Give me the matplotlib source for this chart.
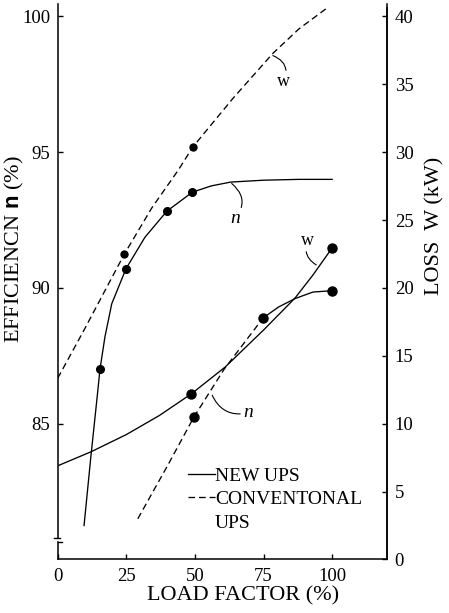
import matplotlib
matplotlib.use('Agg')
import matplotlib.pyplot as plt

plt.rcParams.update({
    'font.family': ['Liberation Serif', 'DejaVu Serif'],
    'font.size': 13.5,
    'mathtext.fontset': 'custom',
    'mathtext.rm': 'Liberation Serif',
    'mathtext.bf': 'Liberation Sans:bold',
    'axes.linewidth': 1.1,
    'xtick.direction': 'in', 'ytick.direction': 'in',
    'xtick.major.size': 3.5, 'ytick.major.size': 3.5,
    'xtick.major.width': 1.0, 'ytick.major.width': 1.0,
    'xtick.major.pad': 6, 'ytick.major.pad': 5.5,
})

# ── data ────────────────────────────────────────────────
# new UPS, efficiency n (%)  (left axis)
new_n_x = [9.6, 12.0, 14.6, 15.4, 17.2, 19.7, 24.9, 31.8, 39.8, 49.1, 56.0, 63.0, 75.0, 88.0, 100.0]
new_n_y = [81.25, 83.7, 86.2, 87.0, 88.19, 89.42, 90.71, 91.87, 92.83, 93.53, 93.76, 93.9, 93.97, 94.0, 94.0]
new_n_mx = [15.4, 24.9, 39.8, 49.1]
new_n_my = [87.0, 90.71, 92.83, 93.53]

# new UPS, loss W (kW)  (right axis)
new_w_x = [0.0, 12.0, 25.0, 37.0, 48.7, 61.0, 75.0, 86.5, 93.0, 100.0]
new_w_y = [6.9, 7.92, 9.2, 10.6, 12.2, 14.17, 16.9, 19.26, 20.95, 22.95]
new_w_mx = [48.7, 100.0]
new_w_my = [12.2, 22.95]

# conventional UPS, efficiency n (%): dashed up to 75 %, drawn solid after
conv_n_x = [29.2, 40.0, 49.6, 60.6, 74.9]
conv_n_y = [81.5, 83.45, 85.24, 87.0, 88.9]
conv_n2_x = [74.9, 80.5, 86.5, 93.0, 100.0]
conv_n2_y = [88.9, 89.3, 89.61, 89.85, 89.9]
conv_n_mx = [49.6, 74.9, 100.0]
conv_n_my = [85.24, 88.9, 89.9]

# conventional UPS, loss W (kW)
conv_w_x = [0.0, 9.6, 24.3, 34.3, 44.0, 49.3, 64.0, 78.5, 88.0, 98.0]
conv_w_y = [13.35, 16.9, 22.5, 25.9, 28.7, 30.4, 34.0, 37.3, 39.1, 40.6]
conv_w_mx = [24.3, 49.3]
conv_w_my = [22.5, 30.4]

X_TICKS = [0, 25, 50, 75, 100]
N_TICKS = [85, 90, 95, 100]
W_TICKS = [0, 5, 10, 15, 20, 25, 30, 35, 40]

N_LO, N_HI = 80.0, 100.46
LW = 0.95
DASH = (5, 3)

fig = plt.figure(figsize=(4.49, 6.13), dpi=100)
ax = fig.add_axes([0.1285, 0.0873, 0.7334, 0.9062])
ax2 = ax.twinx()

ax.set_xlim(0, 120)
ax.set_ylim(N_LO, N_HI)
ax2.set_ylim(0, 2 * (N_HI - N_LO))

# efficiency curves
ax.plot(new_n_x, new_n_y, color='black', lw=LW)
ax.plot(new_n_mx, new_n_my, 'o', color='black', ms=5.5)
ax.plot(conv_n_x, conv_n_y, color='black', lw=LW, ls=(0, DASH))
ax.plot(conv_n2_x, conv_n2_y, color='black', lw=LW)
ax.plot(conv_n_mx, conv_n_my, 'o', color='black', ms=6.5)

# loss curves
ax2.plot(new_w_x, new_w_y, color='black', lw=LW)
ax2.plot(new_w_mx, new_w_my, 'o', color='black', ms=6.5)
ax2.plot(conv_w_x, conv_w_y, color='black', lw=LW, ls=(0, DASH))
ax2.plot(conv_w_mx, conv_w_my, 'o', color='black', ms=5)

# curve tags with little hooked leaders
lead = dict(arrowstyle='-', lw=0.8, color='black', shrinkA=0, shrinkB=0)
ax.annotate('w', xy=(78.4, 98.56), xytext=(82.4, 97.6), fontsize=13, ha='center', va='center',
            arrowprops=dict(lead, connectionstyle='arc3,rad=0.5'))
ax.annotate('n', xy=(63.4, 93.85), xytext=(64.5, 92.55), fontsize=14, style='italic',
            ha='center', va='center', arrowprops=dict(lead, connectionstyle='arc3,rad=0.5'))
ax.annotate('w', xy=(94.2, 90.85), xytext=(91.0, 91.75), fontsize=13, ha='center', va='center',
            arrowprops=dict(lead, connectionstyle='arc3,rad=0.4'))
ax.annotate('n', xy=(56.3, 86.05), xytext=(69.3, 85.4), fontsize=14, style='italic',
            ha='center', va='center', arrowprops=dict(lead, connectionstyle='arc3,rad=-0.4'))

# axes, ticks
ax.spines['top'].set_visible(False)
ax2.spines['top'].set_visible(False)
ax2.spines['left'].set_visible(False)
ax2.spines['bottom'].set_visible(False)
ax2.spines['right'].set_bounds(0, 40.66)
ax.spines['left'].set_bounds(80.78, N_HI)
ax.plot([0, 0], [N_LO, 80.63], color='black', lw=1.1, clip_on=False)
ax.plot([-1.2, 1.0], [80.78, 80.78], color='black', lw=1.0, clip_on=False)
ax.plot([0, 1.4], [80.63, 80.63], color='black', lw=1.0, clip_on=False)

ax.set_xticks(X_TICKS)
ax.set_yticks(N_TICKS)
ax2.set_yticks(W_TICKS)
ax.tick_params(labelsize=13.5)
ax2.tick_params(labelsize=13.5)

ax.set_xlabel('LOAD FACTOR (%)', fontsize=16)
ax.xaxis.set_label_coords(0.563, -0.048)
ax.set_ylabel(r'EFFICIENCN $\mathbf{n}$ (%)', fontsize=16)
ax.yaxis.set_label_coords(-0.096, 0.559)
ax2.set_ylabel('LOSS  W (kW)', fontsize=16)
ax2.yaxis.set_label_coords(1.117, 0.60)

# legend
h = [plt.Line2D([], [], color='black', lw=LW),
     plt.Line2D([], [], color='black', lw=LW, ls=(0, DASH)),
     plt.Line2D([], [], color='none')]
fig.legend(h, ['NEW UPS', 'CONVENTONAL', 'UPS'], loc='upper left',
           bbox_to_anchor=(0.418, 0.238), frameon=False, fontsize=14,
           handlelength=1.4, handletextpad=0.0, labelspacing=0.3,
           borderpad=0, borderaxespad=0)

fig.savefig('out.png', dpi=100)
